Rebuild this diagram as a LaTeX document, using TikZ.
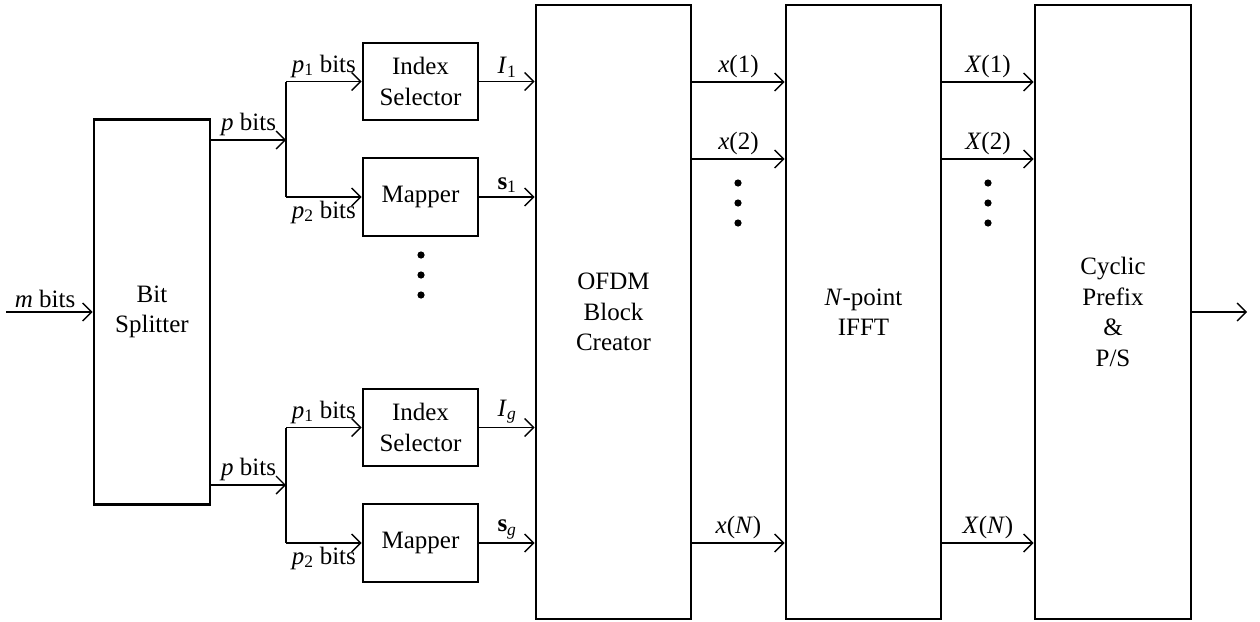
\documentclass[tikz,border=0pt]{standalone}
\usepackage{fontspec}
\setmainfont{Liberation Serif}
\usetikzlibrary{arrows.meta}
\tikzset{
  blk/.style={draw, line width=2.6pt, align=center, inner sep=0pt, font=\fontsize{25}{30.5}\selectfont},
  arr/.style={line width=1.4pt, -{Straight Barb[length=9pt,width=18pt]}},
  lbl/.style={font=\fontsize{25}{30}\selectfont},
}
\begin{document}
\begin{tikzpicture}[x=1pt,y=-1pt]
  \useasboundingbox (0,0) rectangle (1260,621);
  % blocks
  \node[blk, minimum width=116pt, minimum height=385pt] at (152,312) (split) {Bit\\Splitter};
  \node[blk, minimum width=115pt, minimum height=77pt] at (420.5,81.5) (idx1) {Index\\Selector};
  \node[blk, minimum width=115pt, minimum height=78pt] at (420.5,197) (map1) {Mapper};
  \node[blk, minimum width=115pt, minimum height=77pt] at (420.5,427.5) (idx2) {Index\\Selector};
  \node[blk, minimum width=115pt, minimum height=78pt] at (420.5,543) (map2) {Mapper};
  \node[blk, minimum width=155pt, minimum height=614pt] at (613.5,312) (ofdm) {OFDM\\Block\\Creator};
  \node[blk, minimum width=155pt, minimum height=614pt] at (863.5,312) (ifft) {\textit{N}-point\\IFFT};
  \node[blk, minimum width=156pt, minimum height=614pt] at (1113,312) (cp) {Cyclic\\Prefix\\\&\\P/S};
  % free ends and junctions
  \coordinate (in) at (6,312);
  \coordinate (out) at (1247,312);
  \coordinate (j1) at (286,140);
  \coordinate (j2) at (286,485);
  \coordinate (r1) at (0,82);
  \coordinate (r2) at (0,159);
  \coordinate (rN) at (0,543);
  % input and splitter outputs
  \draw[arr] (in) -- (split.west) node[pos=0.45, above, lbl] {\textit{m} bits};
  \draw[arr] (split.east |- j1) -- (j1) node[midway, above, lbl] {\textit{p} bits};
  \draw[arr] (split.east |- j2) -- (j2) node[midway, above, lbl] {\textit{p} bits};
  % branches
  \draw[line width=1.4pt] (j1 |- idx1) -- (j1 |- map1);
  \draw[line width=1.4pt] (j2 |- idx2) -- (j2 |- map2);
  \draw[arr] (j1 |- idx1) -- (idx1.west) node[midway, above, lbl] {\textit{p}\textsubscript{1} bits};
  \draw[arr] (j1 |- map1) -- (map1.west) node[midway, below, lbl, inner sep=3pt] {\textit{p}\textsubscript{2} bits};
  \draw[arr] (j2 |- idx2) -- (idx2.west) node[midway, above, lbl] {\textit{p}\textsubscript{1} bits};
  \draw[arr] (j2 |- map2) -- (map2.west) node[midway, below, lbl, inner sep=3pt] {\textit{p}\textsubscript{2} bits};
  % into the OFDM block
  \draw[arr] (idx1.east) -- (idx1.east -| ofdm.west) node[midway, above, lbl] {\textit{I}\textsubscript{1}};
  \draw[arr] (map1.east) -- (map1.east -| ofdm.west) node[midway, above, lbl] {\textbf{s}\textsubscript{1}};
  \draw[arr] (idx2.east) -- (idx2.east -| ofdm.west) node[midway, above, lbl] {\textit{I}\textsubscript{\textit{g}}};
  \draw[arr] (map2.east) -- (map2.east -| ofdm.west) node[midway, above, lbl] {\textbf{s}\textsubscript{\textit{g}}};
  % OFDM to IFFT
  \draw[arr] (ofdm.east |- r1) -- (ifft.west |- r1) node[midway, above, lbl] {\textit{x}(1)};
  \draw[arr] (ofdm.east |- r2) -- (ifft.west |- r2) node[midway, above, lbl] {\textit{x}(2)};
  \draw[arr] (ofdm.east |- rN) -- (ifft.west |- rN) node[midway, above, lbl] {\textit{x}(\textit{N})};
  % IFFT to CP
  \draw[arr] (ifft.east |- r1) -- (cp.west |- r1) node[midway, above, lbl] {\textit{X}(1)};
  \draw[arr] (ifft.east |- r2) -- (cp.west |- r2) node[midway, above, lbl] {\textit{X}(2)};
  \draw[arr] (ifft.east |- rN) -- (cp.west |- rN) node[midway, above, lbl] {\textit{X}(\textit{N})};
  % output
  \draw[arr] (cp.east) -- (out);
  % dots
  \foreach \y in {255,275,295} \fill (421,\y) circle (3.6pt);
  \foreach \y in {183,203,223} {
    \fill (738,\y) circle (3.6pt);
    \fill (988,\y) circle (3.6pt);
  }
\end{tikzpicture}
\end{document}
